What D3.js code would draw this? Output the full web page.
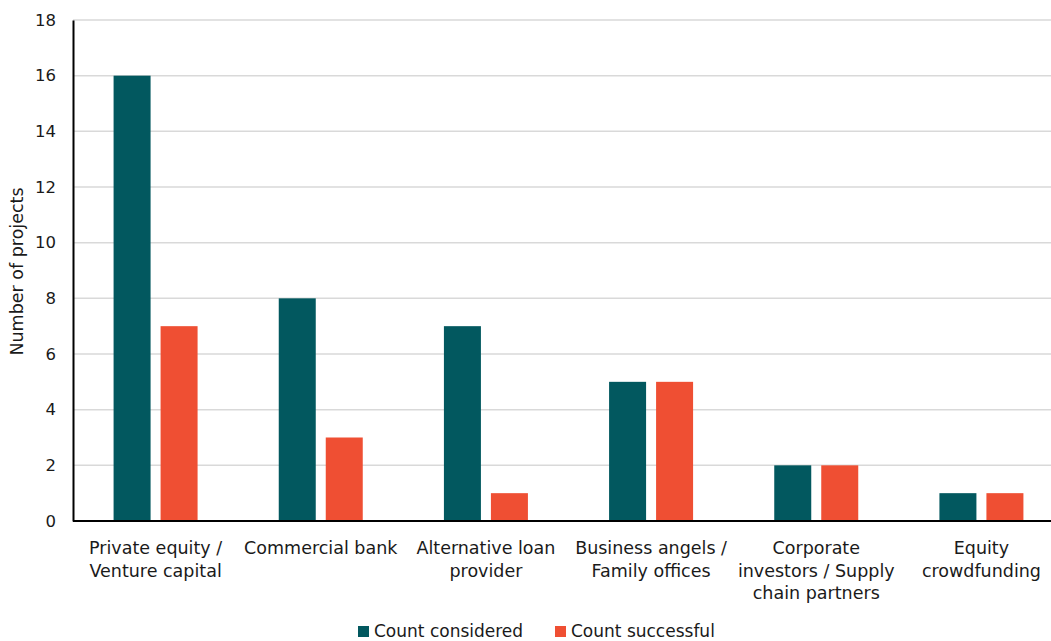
<!DOCTYPE html>
<html>
<head>
<meta charset="utf-8">
<script src="https://cdn.jsdelivr.net/npm/d3@7"></script>
<style>
  html, body { margin: 0; padding: 0; background: #fff; }
  svg { display: block; font-family: "DejaVu Sans", sans-serif; }
</style>
</head>
<body>
<svg id="chart" width="1051" height="641"></svg>
<script>
// Funding sources (each label split into its display lines)
const categories = [
  ["Private equity /", "Venture capital"],
  ["Commercial bank"],
  ["Alternative loan", "provider"],
  ["Business angels /", "Family offices"],
  ["Corporate", "investors / Supply", "chain partners"],
  ["Equity", "crowdfunding"]
];
const seriesNames = ["Count considered", "Count successful"];
const countConsidered = [16, 8, 7, 5, 2, 1];
const countSuccessful = [7, 3, 1, 5, 2, 1];
const yTicks = [0, 2, 4, 6, 8, 10, 12, 14, 16, 18];
const colors = ["#02585F", "#EF4F33"];

const svg = d3.select("#chart");
const margin = { left: 73, top: 20, bottom: 120 };
const plotW = 991;
const plotH = 641 - margin.top - margin.bottom;

const keys = categories.map((c, i) => i);
const x = d3.scaleBand().domain(keys).range([margin.left, margin.left + plotW]).padding(0);
const y = d3.scaleLinear().domain([0, 18]).range([margin.top + plotH, margin.top]);

// Horizontal gridlines
svg.append("g")
  .selectAll("line")
  .data(yTicks.filter(t => t > 0))
  .join("line")
  .attr("x1", margin.left).attr("x2", 1051)
  .attr("y1", d => y(d)).attr("y2", d => y(d))
  .attr("stroke", "#d9d9d9").attr("stroke-width", 1.5);

// Bars
const barW = 37, gap = 10;
const series = [countConsidered, countSuccessful];
series.forEach((vals, s) => {
  svg.append("g")
    .selectAll("rect")
    .data(vals)
    .join("rect")
    .attr("x", (d, i) => x(i) + x.bandwidth() / 2 + (s === 0 ? -gap / 2 - barW : gap / 2))
    .attr("y", d => y(d))
    .attr("width", barW)
    .attr("height", d => y(0) - y(d))
    .attr("fill", colors[s]);
});

// Y axis
const yAxis = d3.axisLeft(y).tickValues(yTicks).tickSize(0).tickPadding(17).tickFormat(d3.format("d"));
const gy = svg.append("g").attr("transform", `translate(${margin.left},0)`).call(yAxis);
gy.select(".domain").attr("stroke", "#000").attr("stroke-width", 2);
gy.selectAll("text").attr("font-size", 16.5).attr("fill", "#1a1a1a")
  .attr("font-family", "DejaVu Sans, sans-serif");

// X axis line
svg.append("line")
  .attr("x1", margin.left).attr("x2", 1051)
  .attr("y1", y(0)).attr("y2", y(0))
  .attr("stroke", "#000").attr("stroke-width", 2);

// Category labels
const labels = svg.append("g").selectAll("text")
  .data(categories)
  .join("text")
  .attr("text-anchor", "middle")
  .attr("font-size", 17.5)
  .attr("fill", "#1a1a1a")
  .attr("transform", (d, i) => `translate(${x(i) + x.bandwidth() / 2},${y(0) + 33})`);
labels.selectAll("tspan")
  .data(d => d)
  .join("tspan")
  .attr("x", 0)
  .attr("dy", (d, i) => i === 0 ? 0 : 22.5)
  .text(d => d);

// Y axis title
svg.append("text")
  .attr("transform", `translate(23,${y(9) + 1}) rotate(-90)`)
  .attr("text-anchor", "middle")
  .attr("font-size", 17.5)
  .attr("fill", "#1a1a1a")
  .text("Number of projects");

// Legend
const legend = svg.append("g").attr("transform", "translate(358,626)");
const legendX = [0, 197];
seriesNames.forEach((name, i) => {
  const g = legend.append("g").attr("transform", `translate(${legendX[i]},0)`);
  g.append("rect").attr("x", 0).attr("y", 0).attr("width", 11).attr("height", 11).attr("fill", colors[i]);
  g.append("text").attr("x", 16).attr("y", 11).attr("font-size", 17).attr("fill", "#1a1a1a").text(name);
});
</script>
</body>
</html>
